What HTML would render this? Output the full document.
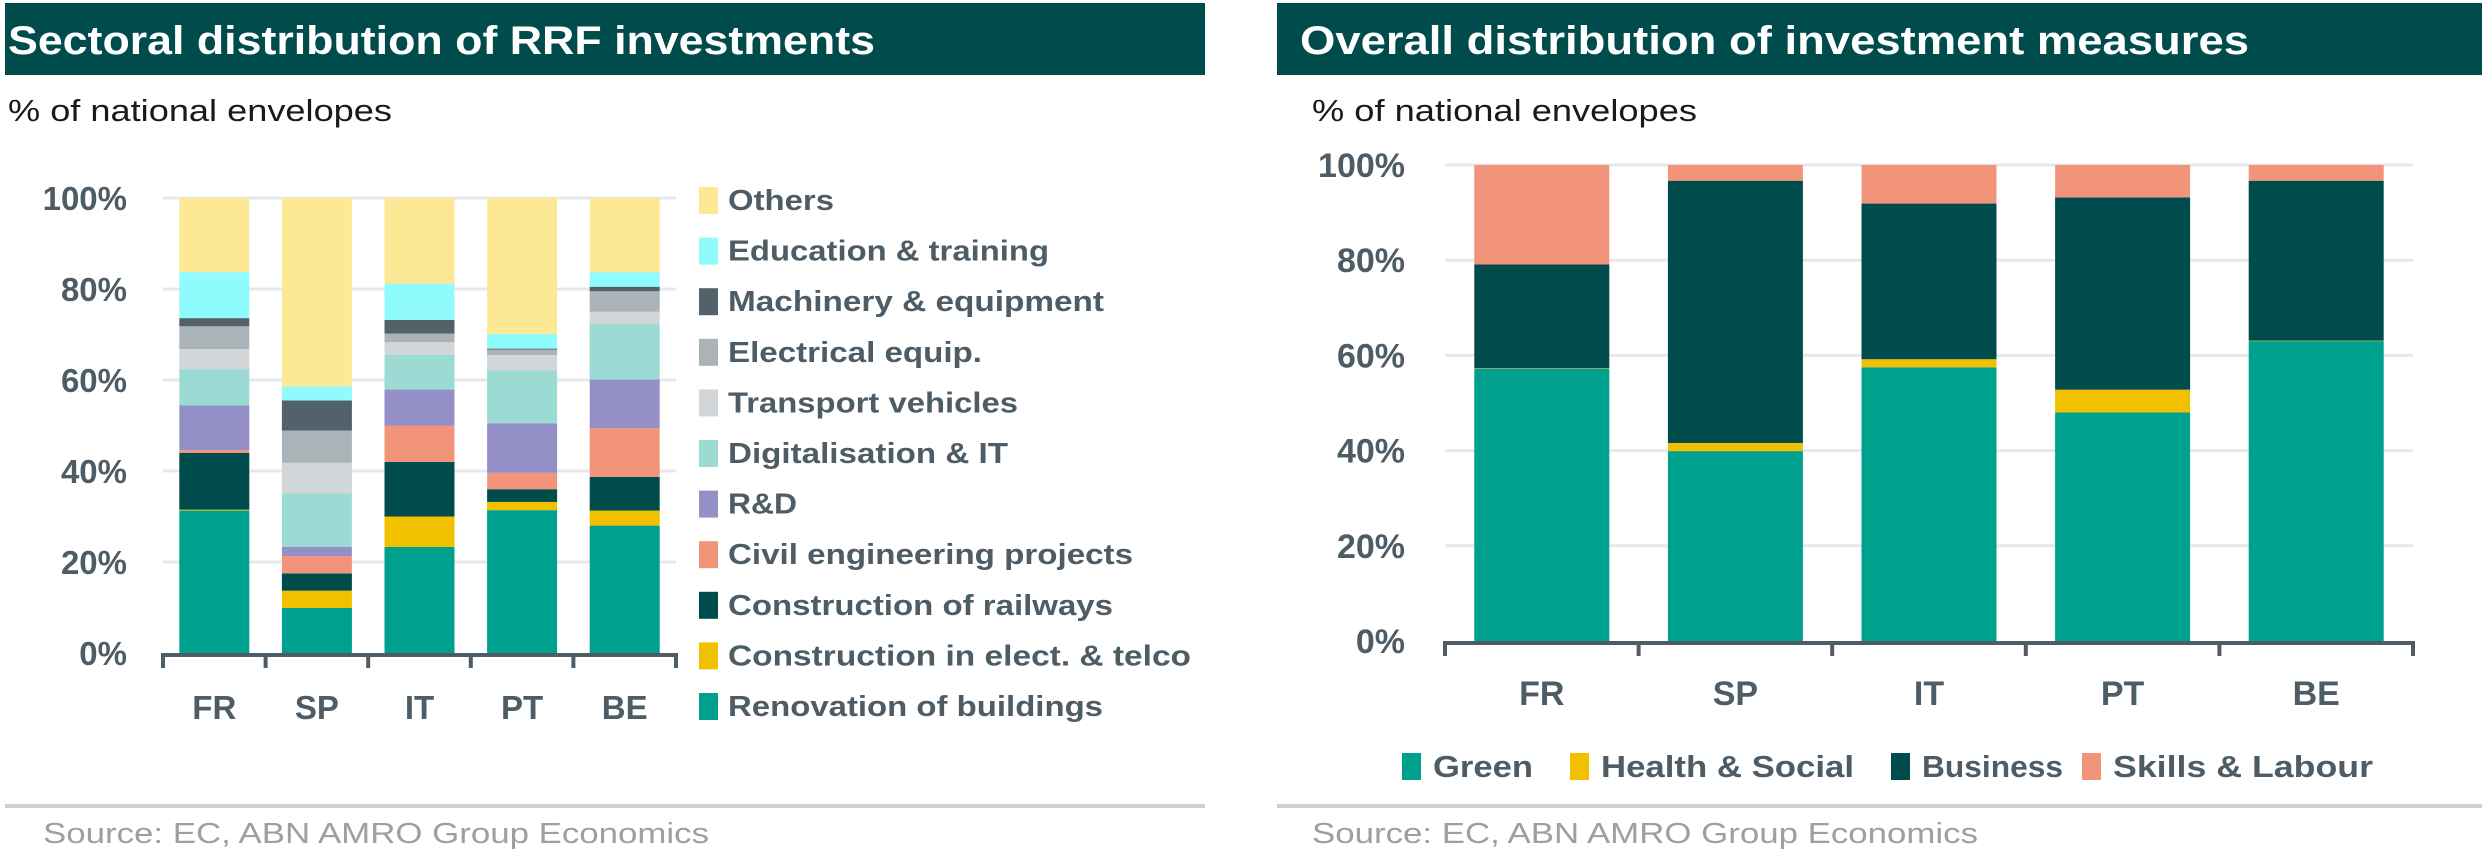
<!DOCTYPE html>
<html><head><meta charset="utf-8"><style>
html,body{margin:0;padding:0;background:#fff;overflow:hidden}
svg{display:block;font-family:"Liberation Sans",sans-serif}
</style></head><body>
<svg id="s" width="2487" height="858" viewBox="0 0 2487 858" xmlns="http://www.w3.org/2000/svg">
<g>
<rect x="5" y="3" width="1200" height="72" fill="#004c4c"/>
<text x="8" y="54" font-size="40" font-weight="bold" fill="#fff" textLength="867" lengthAdjust="spacingAndGlyphs">Sectoral distribution of RRF investments</text>
<text x="8" y="121" font-size="31" fill="#1a1a1a" textLength="384" lengthAdjust="spacingAndGlyphs">% of national envelopes</text>
<g id="L"></g>
<rect x="5" y="804" width="1200" height="4" fill="#d0d0d0"/>
<text x="43" y="843" font-size="29" fill="#9aa0a4" textLength="666" lengthAdjust="spacingAndGlyphs">Source: EC, ABN AMRO Group Economics</text>
</g>
<g>
<rect x="1277" y="3" width="1205" height="72" fill="#004c4c"/>
<text x="1300" y="54" font-size="40" font-weight="bold" fill="#fff" textLength="949" lengthAdjust="spacingAndGlyphs">Overall distribution of investment measures</text>
<text x="1312" y="121" font-size="31" fill="#1a1a1a" textLength="385" lengthAdjust="spacingAndGlyphs">% of national envelopes</text>
<g id="R"></g>
<rect x="1277" y="804" width="1205" height="4" fill="#d0d0d0"/>
<text x="1312" y="843" font-size="29" fill="#9aa0a4" textLength="666" lengthAdjust="spacingAndGlyphs">Source: EC, ABN AMRO Group Economics</text>
</g>
</svg>
<script>
// ---- Left chart data (percent shares, bottom-up) ----
const catsL = ["FR","SP","IT","PT","BE"];
const renovation = [31.3, 9.9, 23.3, 31.4, 28.0];
const constElec = [0.2, 3.8, 6.7, 1.8, 3.3];
const railways = [12.5, 3.8, 12.0, 2.8, 7.4];
const civilEng = [0.6, 3.8, 8.0, 3.6, 10.7];
const rnd = [9.8, 2.0, 7.9, 10.9, 10.7];
const digital = [8.0, 11.8, 7.6, 11.6, 12.3];
const transport = [4.4, 6.7, 2.8, 3.4, 2.6];
const electrical = [5.0, 7.1, 1.9, 1.2, 4.5];
const machinery = [1.8, 6.6, 3.0, 0.2, 1.0];
const education = [10.1, 3.1, 8.0, 3.2, 3.2];
const others = [16.3, 41.4, 18.8, 29.9, 16.3];
const seriesNamesL = ["Renovation of buildings","Construction in elect.  & telco","Construction of railways","Civil engineering projects","R&D","Digitalisation & IT","Transport vehicles","Electrical equip.","Machinery & equipment","Education & training","Others"];
const ticksL = [0,20,40,60,80,100];
// ---- Right chart data ----
const catsR = ["FR","SP","IT","PT","BE"];
const green = [57.2, 39.9, 57.5, 48.0, 63.0];
const health = [0.1, 1.7, 1.7, 4.8, 0.1];
const business = [21.8, 55.1, 32.7, 40.4, 33.6];
const skills = [20.9, 3.3, 8.1, 6.8, 3.3];
const seriesNamesR = ["Green","Health & Social","Business","Skills & Labour"];
const ticksR = [0,20,40,60,80,100];

const NS="http://www.w3.org/2000/svg";
function mk(parent,tag,attrs,text){const e=document.createElementNS(NS,tag);for(const k in attrs)e.setAttribute(k,attrs[k]);if(text!==undefined)e.textContent=text;parent.appendChild(e);return e;}
const AX="#4e5c66";

function drawChart(g,cfg){
  const {x0,x1,y0,y1,cats,series,colors,ticks,barW,labelX,catY,tickFS}=cfg;
  const ys=v=>y0-(v/100)*(y0-y1);
  const band=(x1-x0)/cats.length;
  const xs=i=>x0+band*i+band/2;
  ticks.forEach(t=>{
    if(t>0){const l=mk(g,'line',{x1:x0,x2:x1,y1:ys(t),y2:ys(t),stroke:'#e6e9eb','stroke-width':3});
    
    }
    const tx=mk(g,'text',{x:labelX,y:ys(t)+12,'font-size':tickFS,'font-weight':'bold',fill:AX,'text-anchor':'end'},t+'%');
    
    
  });
  cats.forEach((c,i)=>{
    let acc=0;
    series.forEach((s,j)=>{
      const v=s[i];
      const r=mk(g,'rect',{x:xs(i)-barW/2,y:ys(acc+v),width:barW,height:Math.max(0,ys(acc)-ys(acc+v)),fill:colors[j]});
      
      
      acc+=v;
    });
    const t=mk(g,'text',{x:xs(i),y:catY,'font-size':tickFS,'font-weight':'bold',fill:AX,'text-anchor':'middle'},c);
    
    
  });
  const ax=mk(g,'line',{x1:x0,x2:x1,y1:y0+2,y2:y0+2,stroke:AX,'stroke-width':4});
  
  
  for(let i=0;i<=cats.length;i++){
    const tk=mk(g,'line',{x1:x0+band*i,x2:x0+band*i,y1:y0,y2:y0+15,stroke:AX,'stroke-width':4});
    
    
  }
}
const colorsL=["#00a08f","#f1c100","#004c4c","#f29479","#958fc8","#9cdad4","#d2d6d8","#aab3b8","#52616a","#90fbfc","#fde895"];
const L=document.getElementById('L');
drawChart(L,{x0:163,x1:676,y0:653,y1:198,cats:catsL,series:[renovation,constElec,railways,civilEng,rnd,digital,transport,electrical,machinery,education,others],colors:colorsL,ticks:ticksL,barW:70,labelX:127,catY:719,tickFS:33});
// left legend (top = Others)
const legW=[375,463,385,405,69,280,290,254,376,321,106];
for(let j=0;j<seriesNamesL.length;j++){
  const row=seriesNamesL.length-1-j;
  const cy=200+row*50.6;
  const sq=mk(L,'rect',{x:699,y:cy-13,width:19,height:27,fill:colorsL[j]});
  
  
  const t=mk(L,'text',{x:728,y:cy+10,'font-size':29,'font-weight':'bold',fill:AX,textLength:legW[j],lengthAdjust:'spacingAndGlyphs'},seriesNamesL[j]);
  
  
}
const colorsR=["#00a08f","#f1c100","#004c4c","#f29479"];
const R=document.getElementById('R');
drawChart(R,{x0:1445,x1:2413,y0:641,y1:165,cats:catsR,series:[green,health,business,skills],colors:colorsR,ticks:ticksR,barW:135,labelX:1405,catY:705,tickFS:34});
const lgX=[1402,1570,1891,2082], lgTW=[100,253,141,260];
seriesNamesR.forEach((n,j)=>{
  const sq=mk(R,'rect',{x:lgX[j],y:753,width:19,height:27,fill:colorsR[j]});
  
  
  const t=mk(R,'text',{x:lgX[j]+31,y:777,'font-size':31,'font-weight':'bold',fill:AX,textLength:lgTW[j],lengthAdjust:'spacingAndGlyphs'},n);
  
  
});
</script>
</body></html>
